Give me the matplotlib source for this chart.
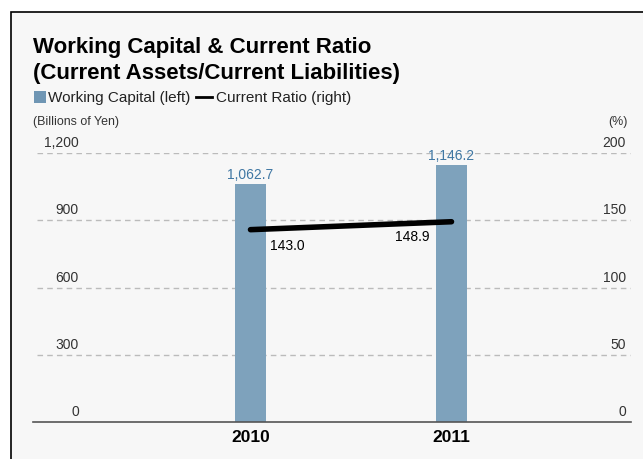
import matplotlib.pyplot as plt
from matplotlib.patches import Rectangle
import matplotlib.transforms as mtransforms

plt.rcParams['font.family'] = ['Liberation Sans', 'DejaVu Sans']

years = ["2010", "2011"]
working_capital = [1062.7, 1146.2]
current_ratio = [143.0, 148.9]
left_ticks = [0, 300, 600, 900, 1200]
right_ticks = [0, 50, 100, 150, 200]

W, H = 643, 460
fig = plt.figure(figsize=(W / 100, H / 100), dpi=100)
fig.patch.set_facecolor("white")

# panel background with black frame on left/top
fig.patches.append(Rectangle((11 / W, -0.1), 1.1, (H - 13) / H + 0.1,
                             transform=fig.transFigure, facecolor="#f7f7f7",
                             edgecolor="black", linewidth=1.2, zorder=-5))

ax = fig.add_axes([33 / W, (H - 423) / H, 598 / W, 269 / H])
ax.set_facecolor("none")
x = list(range(len(years)))
ax.bar(x, working_capital, width=0.154, color="#7ea2bc", zorder=2)
ax.set_xlim(-1.082, 1.893)
ax.set_ylim(0, 1200)
for s in ["top", "right", "left"]:
    ax.spines[s].set_visible(False)
ax.spines["bottom"].set_color("#555555")
ax.spines["bottom"].set_linewidth(1.2)
ax.set_yticks([])
ax.set_xticks(x)
ax.set_xticklabels(years, fontsize=12.5, fontweight="bold")
ax.tick_params(axis="x", length=0, pad=5)

# dashed gridlines
for t in left_ticks[1:]:
    ax.plot([(37 - 33) / 598, 1], [t, t], transform=ax.get_yaxis_transform(),
            color="#bbbbbb", linestyle=(0, (4, 3)), linewidth=1, zorder=1)

up = mtransforms.offset_copy(ax.get_yaxis_transform(), fig=fig, x=0, y=4, units="dots")
for t in left_ticks:
    ax.text((79 - 33) / 598, t, f"{t:,}", transform=up, ha="right", va="bottom",
            fontsize=10, color="#333333")

for xi, v in zip(x, working_capital):
    ax.annotate(f"{v:,.1f}", (xi, v), xytext=(0, 2), textcoords="offset points",
                ha="center", va="bottom", fontsize=10, color="#3f77a3")

ax2 = ax.twinx()
ax2.set_ylim(0, 200)
ax2.set_yticks([])
for s in ["top", "right", "left", "bottom"]:
    ax2.spines[s].set_visible(False)
ax2.plot(x, current_ratio, color="black", linewidth=4, solid_capstyle="round", zorder=3)
up2 = mtransforms.offset_copy(ax2.get_yaxis_transform(), fig=fig, x=0, y=4, units="dots")
for t in right_ticks:
    ax2.text((626 - 33) / 598, t, f"{t}", transform=up2, ha="right", va="bottom",
             fontsize=10, color="#333333")
ax2.annotate(f"{current_ratio[0]:.1f}", (x[0], current_ratio[0]), xytext=(14, -11),
             textcoords="offset points", ha="left", va="center", fontsize=10)
ax2.annotate(f"{current_ratio[1]:.1f}", (x[1], current_ratio[1]), xytext=(-16, -10),
             textcoords="offset points", ha="right", va="center", fontsize=10)

# titles and legend
fig.text(33 / W, 1 - 48 / H, "Working Capital & Current Ratio", fontsize=16,
         fontweight="bold", ha="left", va="center")
fig.text(33 / W, 1 - 73 / H, "(Current Assets/Current Liabilities)", fontsize=16,
         fontweight="bold", ha="left", va="center")
fig.patches.append(Rectangle((34 / W, 1 - 104 / H), 12 / W, 12 / H,
                             transform=fig.transFigure, facecolor="#6f96b4", edgecolor="none"))
fig.text(48 / W, 1 - 98 / H, "Working Capital (left)", fontsize=11, ha="left", va="center",
         color="#222222")
fig.lines.append(plt.Line2D([196 / W, 212 / W], [1 - 98 / H, 1 - 98 / H],
                            transform=fig.transFigure, color="black", linewidth=2))
fig.text(216 / W, 1 - 98 / H, "Current Ratio (right)", fontsize=11, ha="left", va="center",
         color="#222222")
fig.text(33 / W, 1 - 122 / H, "(Billions of Yen)", fontsize=8.9, ha="left", va="center",
         color="#333333")
fig.text(628 / W, 1 - 122 / H, "(%)", fontsize=8.9, ha="right", va="center", color="#333333")

fig.savefig("out.png", dpi=100)
